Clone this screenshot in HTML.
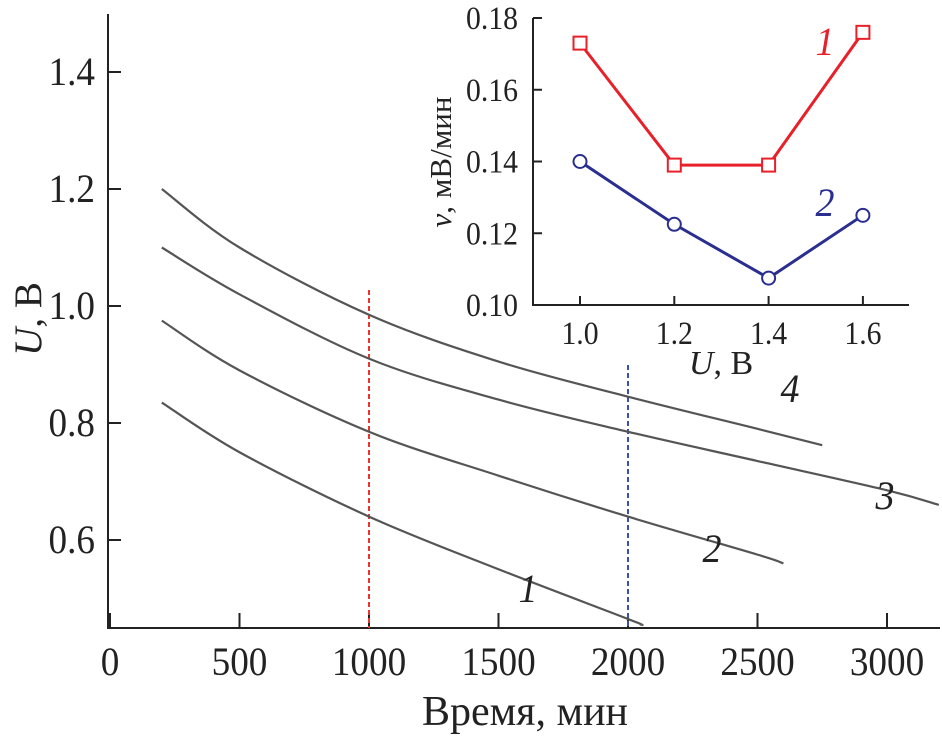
<!DOCTYPE html>
<html><head><meta charset="utf-8"><style>
html,body{margin:0;padding:0;background:#fff;}
svg{display:block;font-family:"Liberation Serif",serif;}
</style></head><body>
<svg id="chart" width="942" height="738" viewBox="0 0 942 738" xmlns="http://www.w3.org/2000/svg"></svg>
<script>
// Main chart data
const mainXTicks = [0, 500, 1000, 1500, 2000, 2500, 3000];
const mainYTicks = [0.6, 0.8, 1.0, 1.2, 1.4];
const mainYTickLabels = ["0.6", "0.8", "1.0", "1.2", "1.4"];
const curve1X = [200, 500, 1000, 1500, 2000, 2050];
const curve1Y = [0.835, 0.75, 0.64, 0.55, 0.465, 0.455];
const curve2X = [200, 500, 1000, 1500, 2000, 2500, 2600];
const curve2Y = [0.975, 0.89, 0.785, 0.71, 0.64, 0.575, 0.56];
const curve3X = [200, 500, 1000, 1500, 2000, 2500, 3000, 3200];
const curve3Y = [1.10, 1.02, 0.91, 0.84, 0.785, 0.735, 0.685, 0.66];
const curve4X = [200, 500, 1000, 1500, 2000, 2500, 2750];
const curve4Y = [1.20, 1.10, 0.985, 0.905, 0.845, 0.79, 0.762];
const markerTimes = [1000, 2000];
// Inset data
const insetX = [1.0, 1.2, 1.4, 1.6];
const insetXTickLabels = ["1.0", "1.2", "1.4", "1.6"];
const insetYTicks = [0.10, 0.12, 0.14, 0.16, 0.18];
const insetYTickLabels = ["0.10", "0.12", "0.14", "0.16", "0.18"];
const series1 = [0.173, 0.139, 0.139, 0.176];
const series2 = [0.140, 0.1225, 0.1075, 0.125];

const NS = "http://www.w3.org/2000/svg";
const svg = document.getElementById("chart");
function mk(tag, attrs, parent) {
  const e = document.createElementNS(NS, tag);
  for (const k in attrs) e.setAttribute(k, attrs[k]);
  (parent || svg).appendChild(e);
  return e;
}
function txt(x, y, size, anchor, html, scx, extra) {
  const attrs = {transform: "translate(" + x + "," + y + ") scale(" + scx + ",1)", "font-size": size, "text-anchor": anchor, fill: "#222"};
  for (const k in (extra || {})) attrs[k] = extra[k];
  const t = mk("text", attrs);
  t.innerHTML = html;
  return t;
}
const sx = v => 110 + v * 0.259;
const sy = v => 540 - (v - 0.6) * 585;
const ix = v => 580 + (v - 1.0) / 0.2 * 94.3;
const iy = v => 305 - (v - 0.10) / 0.02 * 71.75;

// main axes
let a = mk("path", {d: "M108,14 L108,628 L940,628", fill: "none", stroke: "#222", "stroke-width": 2});


mainXTicks.forEach(t => {
  const x = sx(t);
  let l = mk("line", {x1: x, x2: x, y1: 628, y2: 613, stroke: "#222", "stroke-width": 2});
  
  
  let tx = txt(x, 675, 40, "middle", String(t), 0.93);
  
  
});
mainYTicks.forEach((t, i) => {
  const y = sy(t);
  let l = mk("line", {x1: 108, x2: 121, y1: y, y2: y, stroke: "#222", "stroke-width": 2});
  
  
  let tx = txt(95, y + 13, 40, "end", mainYTickLabels[i], 0.93);
  
  
});
let xt = txt(525, 725, 42, "middle", "Время, мин", 1.0);


let yt = mk("text", {transform: "translate(41,319) rotate(-90)", "font-size": 39, "text-anchor": "middle", fill: "#222"});
yt.innerHTML = '<tspan font-style="italic">U</tspan>, В';



// dashed markers
const mcol = ["#e8362a", "#3a4fb0"];
markerTimes.forEach((t, i) => {
  let l = mk("line", {x1: sx(t), x2: sx(t), y1: i ? 365 : 290, y2: 628, stroke: mcol[i], "stroke-width": 2, "stroke-dasharray": "5,3"});
  
  
});

// curves
function smoothPath(xs, ys, fx, fy) {
  const p = xs.map((x, i) => [fx(x), fy(ys[i])]);
  let d = "M" + p[0][0] + "," + p[0][1];
  for (let i = 0; i < p.length - 1; i++) {
    const p0 = p[Math.max(0, i - 1)], p1 = p[i], p2 = p[i + 1], p3 = p[Math.min(p.length - 1, i + 2)];
    const c1 = [p1[0] + (p2[0] - p0[0]) / 6, p1[1] + (p2[1] - p0[1]) / 6];
    const c2 = [p2[0] - (p3[0] - p1[0]) / 6, p2[1] - (p3[1] - p1[1]) / 6];
    d += " C" + c1 + " " + c2 + " " + p2;
  }
  return d;
}
const curves = [[curve1X, curve1Y], [curve2X, curve2Y], [curve3X, curve3Y], [curve4X, curve4Y]];
curves.forEach((c, i) => {
  let p = mk("path", {d: smoothPath(c[0], c[1], sx, sy), fill: "none", stroke: "#555", "stroke-width": 2.2});
  
  
});
const clabels = [[528, 602, "1"], [712, 562, "2"], [885, 509, "3"], [790, 402, "4"]];
clabels.forEach(c => {
  let t = txt(c[0], c[1], 40, "middle", c[2], 0.95, {"font-style": "italic"});
  
  
});

// inset
let ia = mk("path", {d: "M533,18 L533,305 L909,305", fill: "none", stroke: "#222", "stroke-width": 2});


insetX.forEach((v, i) => {
  const x = ix(v);
  let l = mk("line", {x1: x, x2: x, y1: 305, y2: 296, stroke: "#222", "stroke-width": 2});
  
  
  let t = txt(x, 344, 33, "middle", insetXTickLabels[i], 0.9);
  
  
});
insetYTicks.forEach((v, i) => {
  const y = iy(v);
  let l = mk("line", {x1: 533, x2: 542, y1: y, y2: y, stroke: "#222", "stroke-width": 2});
  
  
  let t = txt(518, y + 11, 33, "end", insetYTickLabels[i], 0.9);
  
  
});
let ixt = txt(721, 374, 34, "middle", '<tspan font-style="italic">U</tspan>, В', 1.0);


let iyt = mk("text", {transform: "translate(451,162) rotate(-90)", "font-size": 31, "text-anchor": "middle", fill: "#222"});
iyt.innerHTML = '<tspan font-style="italic">v</tspan>, мВ/мин';



function polyline(vals, col, name) {
  let p = mk("polyline", {points: insetX.map((x, i) => ix(x) + "," + iy(vals[i])).join(" "), fill: "none", stroke: col, "stroke-width": 3});
  
  
}
polyline(series1, "#e8202a", "series-1-line");
polyline(series2, "#2a2f8f", "series-2-line");
series1.forEach((v, i) => {
  let r = mk("rect", {x: ix(insetX[i]) - 6.5, y: iy(v) - 6.5, width: 13, height: 13, fill: "#fff", stroke: "#e8202a", "stroke-width": 2});
  
  
});
series2.forEach((v, i) => {
  let c = mk("circle", {cx: ix(insetX[i]), cy: iy(v), r: 6.5, fill: "#fff", stroke: "#2a2f8f", "stroke-width": 2});
  
  
});
let l1 = txt(825, 55, 40, "middle", "1", 0.95, {"font-style": "italic", fill: "#e8202a"});


let l2 = txt(825, 216, 40, "middle", "2", 0.95, {"font-style": "italic", fill: "#2a2f8f"});


</script>
</body></html>
